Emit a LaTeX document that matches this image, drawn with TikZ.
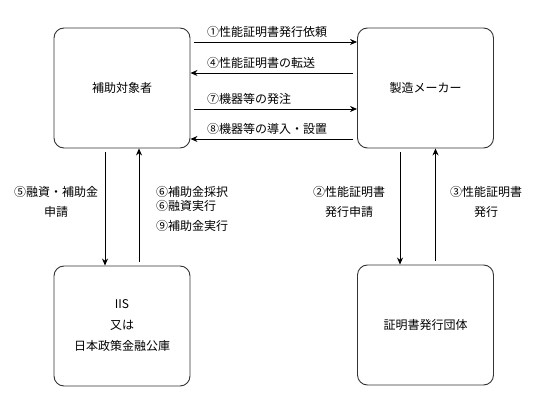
\documentclass[tikz,border=0pt]{standalone}
\usepackage{fontspec}
\setmainfont{Noto Sans CJK JP}
\usetikzlibrary{arrows.meta, positioning, calc}

\tikzset{
  party/.style={draw=black!80, line width=0.9pt, rounded corners=10pt,
    minimum width=136pt, minimum height=120pt, align=center,
    font=\fontsize{12}{21}\selectfont},
  flow/.style={line width=0.8pt, -{Stealth[length=7pt,width=6pt]}},
  note/.style={font=\fontsize{12}{20}\selectfont, inner sep=0pt}
}

\begin{document}
\begin{tikzpicture}[x=1pt, y=-1pt]
  % Page frame
  \useasboundingbox (0,0) rectangle (551,403);

  % Parties
  \node[party] (sub) at (122,88) {補助対象者};
  \node[party] (maker) at (425.5,88) {製造メーカー};
  \node[party] (fin) at (122,326) {IIS\\又は\\日本政策金融公庫};
  \node[party] (cert) at (425.5,325) {証明書発行団体};

  % Between subject and maker
  \draw[flow, shorten <=4pt] ([yshift=46pt]sub.east) -- ([yshift=46pt]maker.west);
  \draw[flow, shorten <=4pt] ([yshift=15pt]maker.west) -- ([yshift=15pt]sub.east);
  \draw[flow, shorten <=4pt] ([yshift=-21pt]sub.east) -- ([yshift=-21pt]maker.west);
  \draw[flow, shorten <=4pt] ([yshift=-51pt]maker.west) -- ([yshift=-51pt]sub.east);

  \node[note, anchor=west] (n1) at (207,32) {①性能証明書発行依頼};
  \node[note, anchor=west] (n4) at (207,63) {④性能証明書の転送};
  \node[note, anchor=west] (n7) at (207,99) {⑦機器等の発注};
  \node[note, anchor=west] (n8) at (207,129) {⑧機器等の導入・設置};

  % Between subject and finance
  \draw[flow, shorten <=4pt] ([xshift=-17pt]sub.south) -- ([xshift=-17pt]fin.north);
  \draw[flow, shorten <=4pt] ([xshift=17pt]fin.north) -- ([xshift=17pt]sub.south);

  \node[note, align=center] (n5) at (56,202) {⑤融資・補助金\\申請};
  \node[note, align=left, anchor=west] (n6) at (156,209) {⑥補助金採択\\[-6pt]⑥融資実行\\⑨補助金実行};

  % Between maker and certifier
  \draw[flow, shorten <=4pt] ([xshift=-25.5pt]maker.south) -- ([xshift=-25.5pt]cert.north);
  \draw[flow, shorten <=4pt] ([xshift=10pt]cert.north) -- ([xshift=10pt]maker.south);

  \node[note, align=center] (n2) at (349,202) {②性能証明書\\発行申請};
  \node[note, align=center] (n3) at (486,202) {③性能証明書\\発行};
\end{tikzpicture}
\end{document}
